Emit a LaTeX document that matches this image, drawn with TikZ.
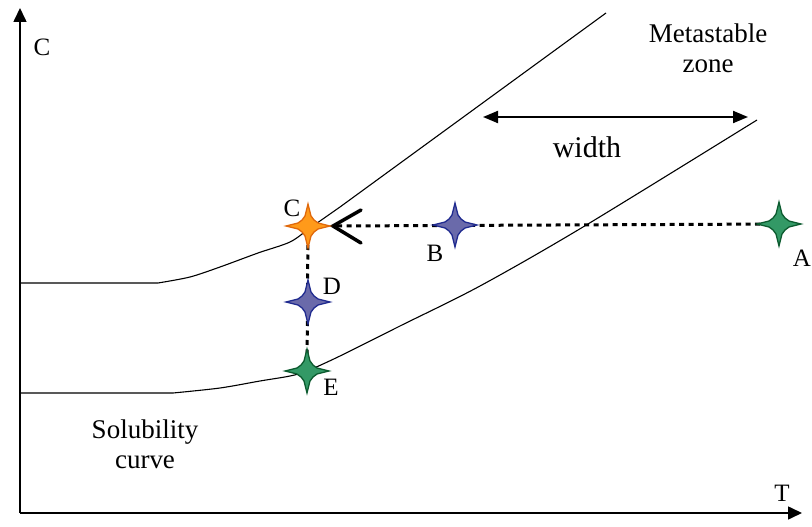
\documentclass[tikz,border=0pt]{standalone}
\usepackage{fontspec}
\setmainfont{Liberation Serif}
\usetikzlibrary{arrows.meta}
\definecolor{gfill}{HTML}{339966}
\definecolor{gline}{HTML}{0B5A2E}
\definecolor{bfill}{HTML}{6A6AAA}
\definecolor{bline}{HTML}{1F2A8F}
\definecolor{ofill}{HTML}{FF9A1A}
\definecolor{oline}{HTML}{E0680A}
\tikzset{
  star4/.pic={\path[pic actions] (22,0) -- (10,3) -- (6,6) -- (3,10) -- (0,22) -- (-3,10) -- (-6,6) -- (-10,3) -- (-22,0) -- (-10,-3) -- (-6,-6) -- (-3,-10) -- (0,-22) -- (3,-10) -- (6,-6) -- (10,-3) -- cycle;},
  gstar/.style={fill=gfill,draw=gline,line width=1.3pt},
  bstar/.style={fill=bfill,draw=bline,line width=1.3pt},
  ostar/.style={fill=ofill,draw=oline,line width=1.3pt},
  curveline/.style={line width=1.1pt,black},
  axisline/.style={line width=1.6pt,-{Triangle[length=14pt,width=13pt]}},
  dotline/.style={line width=3pt,dash pattern=on 5pt off 4.5pt},
  lbl/.style={font=\fontsize{25}{28}\selectfont,inner sep=0pt},
  txt/.style={font=\fontsize{27}{29}\selectfont,inner sep=0pt,align=center},
}
\begin{document}
\begin{tikzpicture}[x=1pt,y=-1pt]
\useasboundingbox (0,0) rectangle (812,527);
% axes
\coordinate (O) at (20,513);
\coordinate (Ytop) at (20,8);
\coordinate (Xend) at (802,513);
\draw[axisline] (O) -- (Ytop);
\draw[axisline] (O) -- (Xend);
\node[lbl] (yl) at (42,47) {C};
\node[lbl] (xl) at (782,493) {T};
% upper (metastable) curve
\draw[curveline] (20,283) -- (158,283) plot[smooth,tension=0.5] coordinates {(158,283) (190,277) (220,267) (258,253) (290,242) (310,228) (340,207)} -- (606,13);
% lower (solubility) curve
\draw[curveline] (20,393) -- (173,393) plot[smooth,tension=0.5] coordinates {(173,393) (220,388) (260,381) (290,376) (307,371) (340,356) (400,326) (480,286) (583,227) (757,120)};
% star positions
\coordinate (A) at (779,224);
\coordinate (B) at (455,225);
\coordinate (C) at (308,226);
\coordinate (D) at (308,302);
\coordinate (E) at (307,371);
\coordinate (tip) at (333,226);
\coordinate (tipU) at (361,210);
\coordinate (tipL) at (361,243);
% dotted connectors
\draw[dotline] (A) -- (tip);
\draw[dotline] (C) -- (E);
\draw[line width=3.5pt,line cap=round] (tipU) -- (tip) -- (tipL);
% width arrow
\coordinate (wl) at (483,117);
\coordinate (wr) at (748,117);
\draw[line width=2pt,{Triangle[length=15pt,width=12pt]}-{Triangle[length=15pt,width=12pt]}] (wl) -- (wr);
\node[font=\fontsize{30}{32}\selectfont,inner sep=0pt] (wlab) at (587,147) {width};
% stars
\pic[gstar] at (A) {star4};
\pic[bstar] at (B) {star4};
\pic[ostar] at (C) {star4};
\pic[bstar] at (D) {star4};
\pic[gstar] at (E) {star4};
% labels
\node[lbl] (lA) at (802,258) {A};
\node[lbl] (lB) at (435,253) {B};
\node[lbl] (lC) at (292,208) {C};
\node[lbl] (lD) at (332,286) {D};
\node[lbl] (lE) at (331,387) {E};
\node[txt] (meta) at (708,48) {Metastable\\[1pt]zone};
\node[txt] (sol) at (145,444) {Solubility\\[1pt]curve};
\end{tikzpicture}
\end{document}
